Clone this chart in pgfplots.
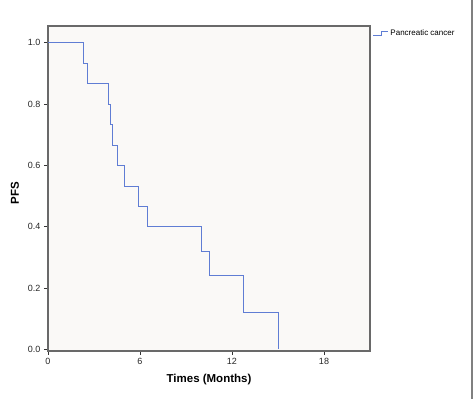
\documentclass[border=0pt]{standalone}
\usepackage{fontspec}
\setmainfont{Liberation Sans}
\usepackage{pgfplots}
\pgfplotsset{compat=1.18}
\definecolor{kmblue}{RGB}{95,125,212}
\definecolor{axgray}{RGB}{105,105,105}
\definecolor{bgplot}{RGB}{250,249,247}
\begin{document}
\begin{tikzpicture}
\path[use as bounding box] (0,0) rectangle (474pt,399pt);
\begin{axis}[
  at={(48pt,48pt)}, anchor=south west,
  scale only axis, width=322pt, height=325pt,
  xmin=0, xmax=21, ymin=-0.005, ymax=1.055,
  xtick={0,6,12,18}, ytick={0,0.2,0.4,0.6,0.8,1.0},
  yticklabel style={/pgf/number format/fixed,/pgf/number format/fixed zerofill,/pgf/number format/precision=1},
  /pgf/number format/assume math mode=true,
  tick label style={font=\fontsize{9}{10}\selectfont, text=black!85},
  tick align=outside, tick pos=left,
  major tick length=4pt,
  tick style={black!80, line width=0.8pt},
  axis line style={axgray, line width=1.3pt},
  axis background/.style={fill=bgplot},
  xlabel={\textbf{Times (Months)}},
  label style={font=\fontsize{11.5}{13}\selectfont},
  xlabel style={at={(axis description cs:0.5,0)}, anchor=center, yshift=-29pt},
  legend style={at={(axis description cs:1.008,0.978)}, anchor=west, draw=none, fill=none,
    font=\fontsize{8}{9}\selectfont, inner sep=0pt, row sep=0pt},
  legend cell align=left,
  legend image code/.code={\draw[kmblue, line width=0.7pt] (0pt,-2pt) -- (8pt,-2pt) -- (8pt,2pt) -- (15pt,2pt);},
]
\addplot[const plot, kmblue, line width=0.8pt] coordinates {
(0,1) (2.28,0.933) (2.54,0.867) (3.95,0.8) (4.08,0.733) (4.17,0.667) (4.54,0.6) (5.0,0.533) (5.91,0.467) (6.48,0.4) (10.02,0.32) (10.5,0.24) (12.72,0.12) (15.04,0)
};
\addlegendentry{Pancreatic cancer}
\end{axis}
\node[rotate=90, anchor=center, font=\fontsize{11.5}{13}\selectfont\bfseries] at (15pt,206pt) {PFS};
\draw[gray, line width=1.5pt] (472pt,0) -- (472pt,399pt);
\end{tikzpicture}
\end{document}
